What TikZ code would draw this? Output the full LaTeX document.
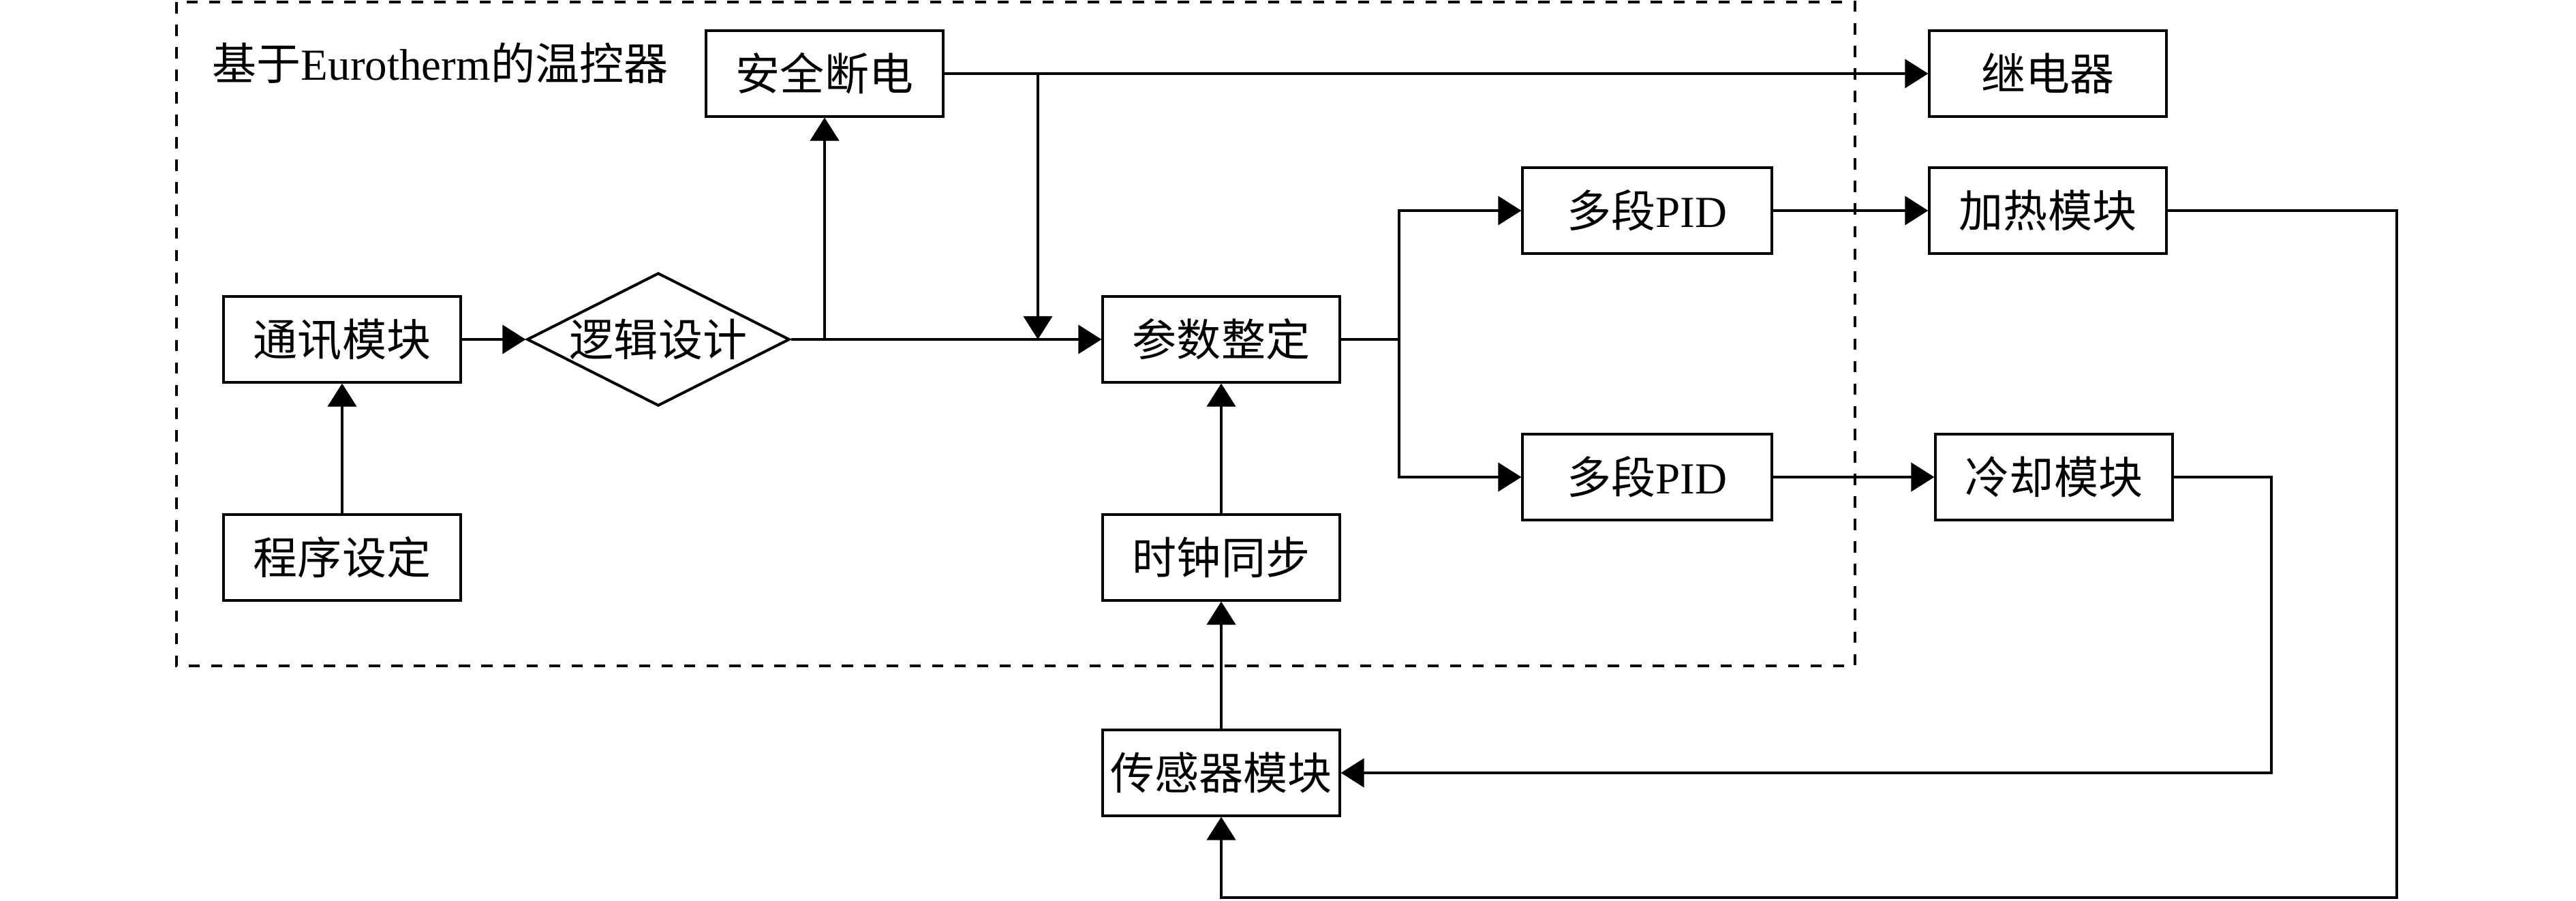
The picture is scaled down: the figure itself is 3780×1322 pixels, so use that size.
\documentclass[tikz,border=0pt]{standalone}
\usepackage{fontspec}
\setmainfont{Liberation Serif}
\newfontfamily\cjk{Noto Sans CJK SC}
\usetikzlibrary{arrows.meta,shapes.geometric}
\begin{document}
\begin{tikzpicture}[x=0.01cm,y=-0.01cm,
  txt/.style={font=\cjk\fontsize{18.5pt}{20pt}\selectfont},
  blk/.style={txt, draw, line width=1.14pt, minimum width=3.47cm, minimum height=1.25cm, inner sep=0pt},
  widebox/.style={blk, minimum width=3.65cm},
  conn/.style={line width=1.14pt, -{Triangle[length=9.7pt,width=12pt]}},
  plainline/.style={line width=1.14pt},
  groupbox/.style={line width=1.14pt, dash pattern=on 4.7pt off 4.7pt}
]
\path[use as bounding box, fill=white] (0,0) rectangle (3780,1322);

% group frame
\draw[groupbox] (259,3) rectangle (2722,977);
\node[txt, anchor=west, inner sep=0pt] (title) at (311,93) {基于{\rmfamily Eurotherm}的温控器};

% nodes
\node[blk] (aq) at (1210,108) {安全断电};
\node[blk] (jdq) at (3005,108) {继电器};
\node[widebox] (pid1) at (2417,309) {多段{\rmfamily PID}};
\node[blk] (jr) at (3005,309) {加热模块};
\node[blk] (tx) at (502,498) {通讯模块};
\node[txt, draw, diamond, aspect=1.97, inner sep=0pt, minimum width=3.85cm, minimum height=1.95cm, line width=1.14pt] (lj) at (966,498) {逻辑设计};
\node[blk] (cs) at (1792,498) {参数整定};
\node[widebox] (pid2) at (2417,700) {多段{\rmfamily PID}};
\node[blk] (lq) at (3014,700) {冷却模块};
\node[blk] (cx) at (502,818) {程序设定};
\node[blk] (sz) at (1792,818) {时钟同步};
\node[blk] (cgq) at (1792,1134) {传感器模块};

% helper coordinates
\coordinate (br) at (1523,108);
\coordinate (fk) at (2053,498);
\coordinate (c1) at (3333,1134);
\coordinate (c2) at (3517,1317);

% connectors
\draw[conn] (aq.east) -- (jdq.west);
\draw[conn] (br) -- (br |- cs.west);
\draw[conn] (lj.east) -- (cs.west);
\draw[conn] (aq.south |- lj.east) -- (aq.south);
\draw[conn] (tx.east) -- (lj.west);
\draw[conn] (cx.north) -- (tx.south);
\draw[conn] (sz.north) -- (cs.south);
\draw[conn] (cgq.north) -- (sz.south);
\draw[plainline] (cs.east) -- (fk);
\draw[conn] (fk) |- (pid1.west);
\draw[conn] (fk) |- (pid2.west);
\draw[conn] (pid1.east) -- (jr.west);
\draw[conn] (pid2.east) -- (lq.west);
\draw[conn] (lq.east) -| (c1) -- (cgq.east);
\draw[conn] (jr.east) -| (c2) -| (cgq.south);
\end{tikzpicture}
\end{document}
